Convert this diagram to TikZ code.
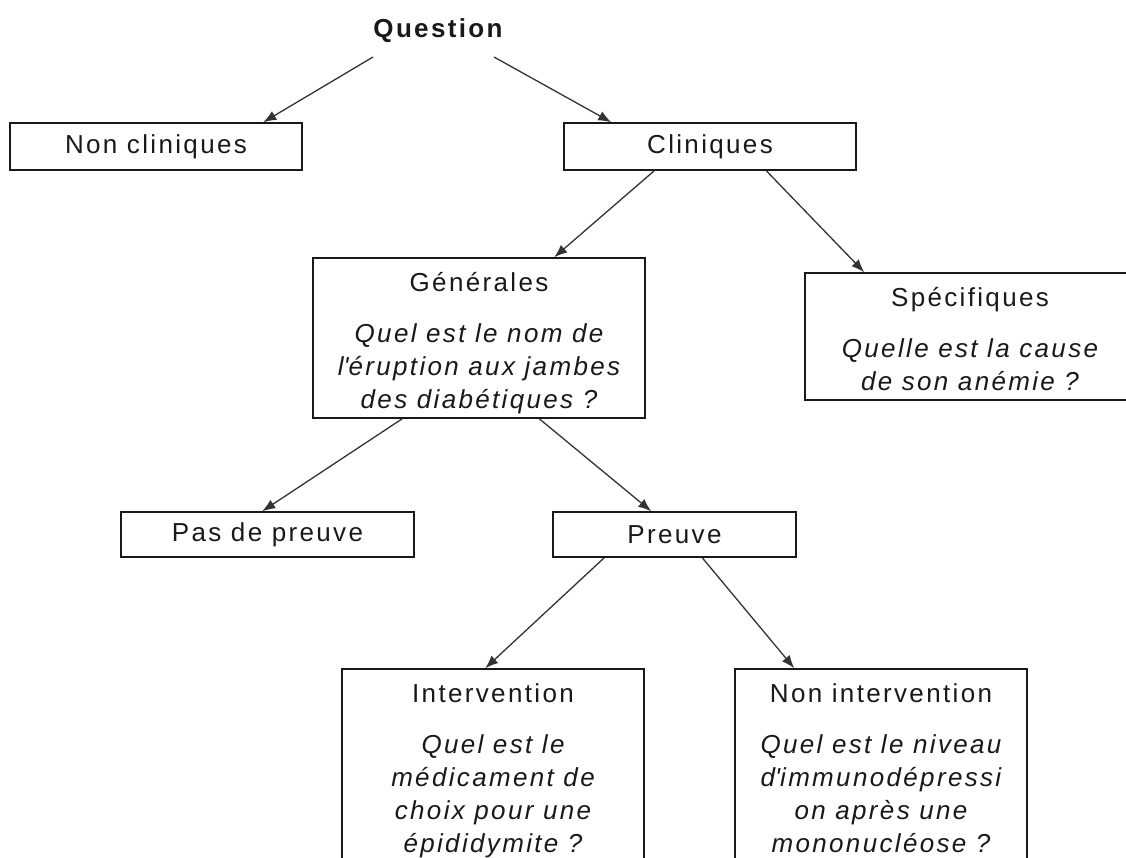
\documentclass[tikz,border=0pt]{standalone}
\usepackage{fontspec}
\setmainfont{Liberation Sans}[LetterSpace=9.0]
\usetikzlibrary{arrows.meta}
\begin{document}
\begin{tikzpicture}[
  x=1pt, y=-1pt,
  every node/.style={font=\fontsize{26}{33}\selectfont, text=black!90},
  box/.style={draw=black!90, line width=1.5pt, inner sep=0pt, rectangle},
  title/.style={anchor=base, inner sep=0pt},
  ask/.style={anchor=north, inner sep=0pt, align=center, font=\fontsize{26}{33}\selectfont\itshape},
  arr/.style={draw=black!80, line width=1.3pt, -{Latex[length=13pt,width=10pt]}},
]
% page frame
\clip (0,0) rectangle (1126,858);
\fill[white] (0,0) rectangle (1126,858);

% root label
\node[anchor=base, inner sep=0pt, font=\fontsize{26}{33}\selectfont\bfseries] (q) at (438,38) {Question};

% first level
\node[box, minimum width=292pt, minimum height=47pt] (nc) at (156,146.5) {Non cliniques};
\node[box, minimum width=292pt, minimum height=47pt] (cl) at (710,146.5) {Cliniques};

% second level
\node[box, minimum width=332pt, minimum height=160pt] (gen) at (479,338) {};
\node[title] (gen-t) at (479,291) {Générales};
\node[ask] (gen-q) at (479,323) {Quel est le nom de\\l\textquotesingle éruption aux jambes\\des diabétiques ?};

\node[box, minimum width=330pt, minimum height=127pt] (spe) at (970,336.5) {};
\node[title] (spe-t) at (970,306) {Spécifiques};
\node[ask] (spe-q) at (970,338) {Quelle est la cause\\de son anémie ?};

% third level
\node[box, minimum width=293pt, minimum height=45pt] (pdp) at (267.5,534.5) {Pas de preuve};
\node[box, minimum width=243pt, minimum height=45pt] (pr) at (674.5,534.5) {Preuve};

% fourth level (boxes run past the lower edge)
\node[box, minimum width=302pt, minimum height=231pt] (int) at (493,784.5) {};
\node[title] (int-t) at (493,702) {Intervention};
\node[ask] (int-q) at (493,734) {Quel est le\\médicament de\\choix pour une\\épididymite ?};

\node[box, minimum width=292pt, minimum height=231pt] (ni) at (881,784.5) {};
\node[title] (ni-t) at (881,702) {Non intervention};
\node[ask] (ni-q) at (881,734) {Quel est le niveau\\d\textquotesingle immunodépressi\\on après une\\mononucléose ?};

% connectors
\draw[arr] ([shift={(-65,19)}]q.base) -- ([xshift=254pt]nc.north west);
\draw[arr] ([shift={(56,19)}]q.base) -- ([xshift=48pt]cl.north west);
\draw[arr] ([xshift=91pt]cl.south west) -- ([xshift=242pt]gen.north west);
\draw[arr] ([xshift=203pt]cl.south west) -- ([xshift=60pt]spe.north west);
\draw[arr] ([xshift=90pt]gen.south west) -- ([xshift=142pt]pdp.north west);
\draw[arr] ([xshift=227pt]gen.south west) -- ([xshift=99pt]pr.north west);
\draw[arr] ([xshift=52pt]pr.south west) -- ([xshift=144pt]int.north west);
\draw[arr] ([xshift=150pt]pr.south west) -- ([xshift=60pt]ni.north west);
\end{tikzpicture}
\end{document}
